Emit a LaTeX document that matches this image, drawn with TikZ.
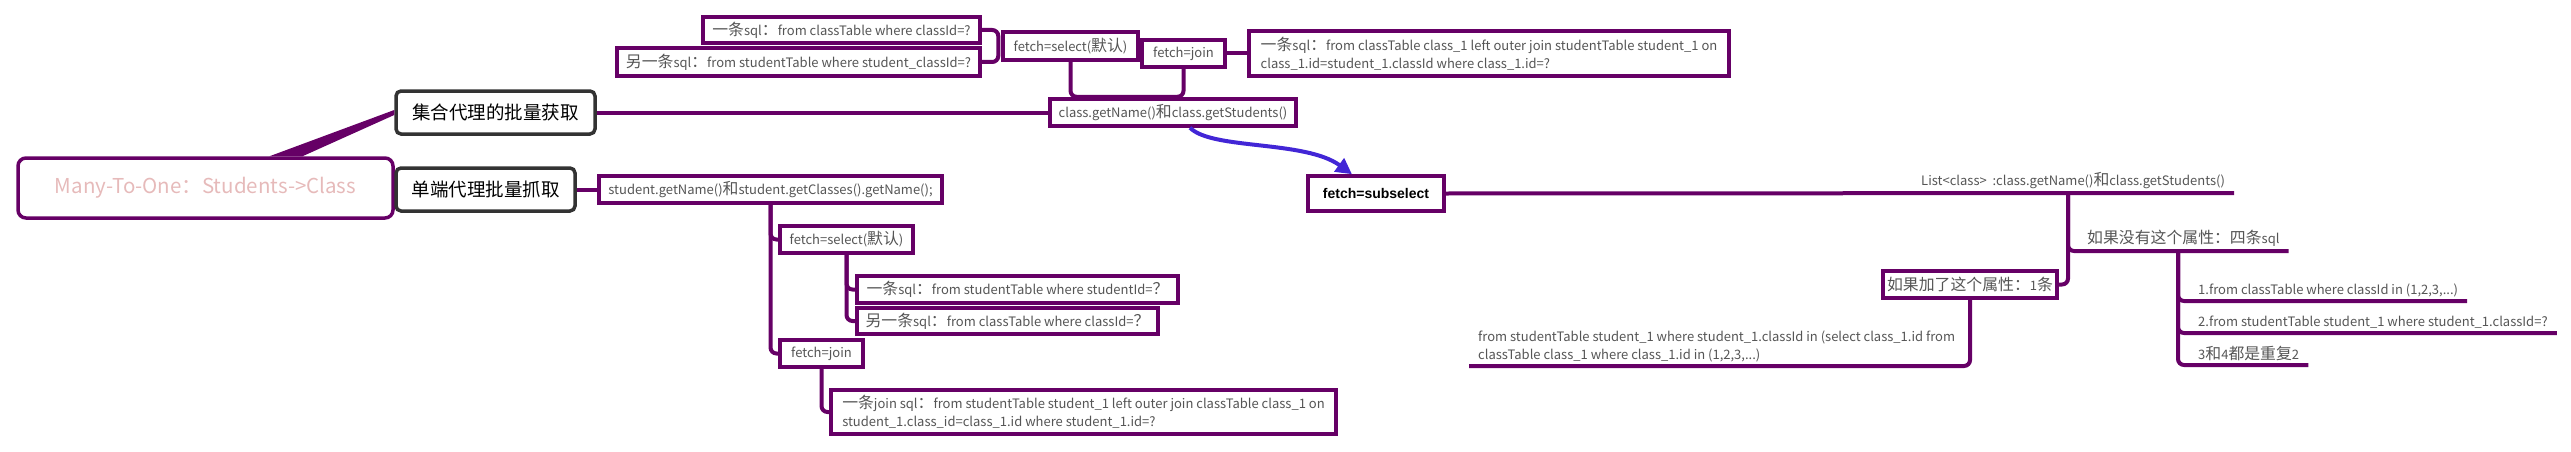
\documentclass[tikz,border=0pt]{standalone}
\usepackage{fontspec}
\setmainfont{Noto Sans CJK SC}
\newfontfamily\zhfont{Noto Sans CJK SC}[Scale=1.22]
\newfontfamily\boldsans{Liberation Sans}
\usepackage{xcolor}
\usepackage{tikz}
\usetikzlibrary{arrows.meta}

\definecolor{mpurple}{RGB}{102,0,102}
\definecolor{tgrey}{RGB}{85,85,85}
\definecolor{hgrey}{RGB}{51,51,51}
\definecolor{rootpink}{RGB}{230,186,186}
\definecolor{arrowblue}{RGB}{66,38,214}
\newcommand{\zh}[1]{{\zhfont #1}}
\newcommand{\smallfont}{\fontsize{13}{18}\selectfont}
\newcommand{\headfont}{\fontsize{18.5}{22}\selectfont}

\begin{document}
\begin{tikzpicture}[x=1pt,y=-1pt,
    sbox/.style={draw=mpurple, line width=3.5pt, fill=white, text=tgrey, font=\smallfont, inner sep=0pt},
    hbox/.style={draw=hgrey, line width=3.5pt, rounded corners=5pt, fill=white, text=black, font=\headfont},
    uline/.style={text=tgrey, font=\smallfont, inner xsep=9pt, inner ysep=4pt},
    link/.style={mpurple, line width=4pt, rounded corners=6pt}]
            \useasboundingbox (0,0) rectangle (2571,452);

            \node[draw=mpurple, line width=3.5pt, rounded corners=8pt, text=rootpink, font=\fontsize{20.5}{24}\selectfont, minimum width=375pt, minimum height=60pt] at (205.5,188) (root) {Many-To-One：Students->Class};
            \node[hbox, minimum width=199pt, minimum height=43pt] at (495.5,112.5) (jihe) {集合代理的批量获取};
            \node[hbox, minimum width=179pt, minimum height=43pt] at (485.5,189.5) (danduan) {单端代理批量抓取};
            \fill[mpurple] ([xshift=64pt]root.north) -- ([yshift=2.5pt]jihe.west) -- ([yshift=-2.5pt]jihe.west) -- ([xshift=97pt]root.north) -- cycle;

            % collection proxy
            \node[sbox, minimum width=246pt, minimum height=27pt] at (1173,112.5) (clsget) {class.getName()\zh{和}class.getStudents()};
            \node[sbox, minimum width=277pt, minimum height=26pt] at (841.5,30) (topone) {\zh{一条}sql\zh{：}from classTable where classId=?};
            \node[sbox, minimum width=363pt, minimum height=28pt] at (798.5,62) (toptwo) {\zh{另一条}sql\zh{：}from studentTable where student\_classId=?};
            \node[sbox, minimum width=135pt, minimum height=28pt] at (1070.5,46) (topsel) {fetch=select(\zh{默认})};
            \node[sbox, minimum width=83pt, minimum height=27pt] at (1183.5,53.5) (topjoin) {fetch=join};
            \node[sbox, minimum width=480pt, minimum height=45pt, align=left] at (1489,53.5) (topjoinsql) {\zh{一条}sql\zh{：}from classTable class\_1 left outer join studentTable student\_1 on\\class\_1.id=student\_1.classId where class\_1.id=?};

            \draw[link] (jihe.east) -- (clsget.west);
            \draw[link] (topone.east) -| ([xshift=-3pt]topsel.west) |- (toptwo.east);
            \draw[link] (topsel.south) -- ++(0,35) -| (topjoin.south);
            \draw[link] (topjoin.east) -- (topjoinsql.west);

            % single-ended proxy
            \node[sbox, minimum width=343pt, minimum height=27pt] at (770.5,189.5) (stuget) {student.getName()\zh{和}student.getClasses().getName();};
            \node[sbox, minimum width=133pt, minimum height=27pt] at (846.5,239.5) (lowsel) {fetch=select(\zh{默认})};
            \node[sbox, minimum width=321pt, minimum height=27pt] at (1017.5,289.5) (lowone) {\zh{一条}sql\zh{：}from studentTable where studentId=\zh{？}};
            \node[sbox, minimum width=301pt, minimum height=26pt] at (1007.5,321) (lowtwo) {\zh{另一条}sql\zh{：}from classTable where classId=\zh{？}};
            \node[sbox, minimum width=83pt, minimum height=27pt] at (821.5,353.5) (lowjoin) {fetch=join};
            \node[sbox, minimum width=505pt, minimum height=44pt, align=left] at (1083.5,412) (lowjoinsql) {\zh{一条}join sql\zh{：}from studentTable student\_1 left outer join classTable class\_1 on\\student\_1.class\_id=class\_1.id where student\_1.id=?};

            \draw[link] (danduan.east) -- (stuget.west);
            \draw[link] (stuget.south) |- (lowsel.west);
            \draw[link] (stuget.south) |- (lowjoin.west);
            \draw[link] (lowsel.south) |- (lowone.west);
            \draw[link] (lowsel.south) |- (lowtwo.west);
            \draw[link] (lowjoin.south) |- (lowjoinsql.west);

            % subselect
            \node[sbox, font={\fontsize{14}{17}\selectfont\boldsans\bfseries}, text=black, minimum width=136pt, minimum height=35pt] at (1376,193.5) (subsel) {fetch=subselect};
            \draw[arrowblue, line width=4pt, -{Triangle[length=16pt,width=16pt]}] ([xshift=17pt]clsget.south) .. controls (1212,150) and (1305,140) .. ([xshift=-24pt]subsel.north);

            \node[uline, anchor=south west] at (1912,193) (listtxt) {List<class>~ :class.getName()\zh{和}class.getStudents()};
            \node[uline, anchor=south west] at (2078,251) (noattr) {\zh{如果没有这个属性：四条}sql};
            \node[sbox, minimum width=174pt, minimum height=27pt] at (1970,284.5) (addattr) {\zh{如果加了这个属性：}1\zh{条}};
            \node[uline, anchor=south west] at (2189,301) (itemone) {1.from classTable where classId in (1,2,3,...)};
            \node[uline, anchor=south west] at (2189,333) (itemtwo) {2.from studentTable student\_1 where student\_1.classId=?};
            \node[uline, anchor=south west] at (2189,365) (itemthree) {3\zh{和}4\zh{都是重复}2};
            \node[uline, anchor=south west, align=left] at (1469,366) (subsqltxt) {from studentTable student\_1 where student\_1.classId in (select class\_1.id from\\classTable class\_1 where class\_1.id in (1,2,3,...)};
            \coordinate (listfork) at (2068,193);
            \coordinate (noattrfork) at (2178,251);

            \draw[link] (subsel.east) -- (listtxt.south east);
            \draw[link] (listfork) |- (noattr.south east);
            \draw[link] (listfork) |- (addattr.east);
            \draw[link] (noattrfork) |- (itemone.south east);
            \draw[link] (noattrfork) |- (itemtwo.south east);
            \draw[link] (noattrfork) |- (itemthree.south east);
            \draw[link] (addattr.south) |- (subsqltxt.south west);
        \end{tikzpicture}
\end{document}
